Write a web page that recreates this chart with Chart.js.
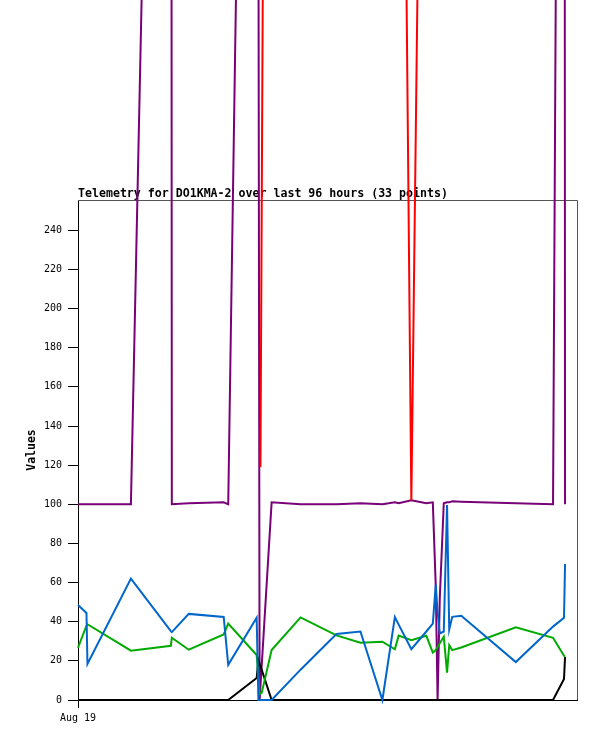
<!DOCTYPE html>
<html>
<head>
<meta charset="utf-8">
<title>Telemetry for DO1KMA-2</title>
<script src="https://cdn.jsdelivr.net/npm/chart.js@4.4.1/dist/chart.umd.min.js"></script>
<style>
  html, body { margin: 0; padding: 0; background: #fff; }
  canvas { display: block; }
</style>
</head>
<body>
<canvas id="chart" width="597" height="741"></canvas>
<script>
// hours since start of window (x axis runs 0..96)
var hours = [0, 1.63, 1.82, 10.18, 17.86, 18.05, 21.31, 28.03, 28.90, 34.37, 34.71, 34.94, 35.33, 37.25, 42.82,
  49.73, 54.34, 58.56, 60.96, 61.69, 64.13, 67.01, 68.26, 68.83, 69.18, 69.60, 70.37, 71.00, 71.42, 72.00,
  73.73, 84.23, 91.39, 93.50, 93.70]

var purpleVals = [100, 100, 100, 100, 1062, 100, 100.5, 101, 100, 1051, 410, 0, 17, 101, 100,
  100, 100.5, 100, 101, 100.5, 102, 100.5, 101, 58, 0, 52, 100.5, 101, 101, 101.5,
  101.3, 100.5, 100, 1150, 100]
var blueVals = [48.5, 44.5, 18.4, 62, 35.2, 34.7, 44, 42.4, 18, 42, 0, 0, 0, 0, 15.5,
  33.7, 35, 0, 42.4, 38.5, 26, 35, 39, 59, 45, 34, 35, 99.6, 36, 42.5,
  43, 19.4, 37.5, 42, 69.5]
var greenVals = [26.7, 38, 38.7, 25.2, 27.7, 31.8, 25.7, 33.5, 39, 23, 12, 3, 3.5, 25.5, 42.2,
  33, 29.3, 29.8, 25.9, 32.9, 30.6, 32.8, 24.2, 25.5, 27, 29, 32.3, 14, 28, 25.5,
  26.8, 37.1, 31.8, 22.6, 22]
var blackVals = [0, 0, 0, 0, 0, 0, 0, 0, 0, 11.2, 20.4, 18.5, 15.5, 0, 0,
  0, 0, 0, 0, 0, 0, 0, 0, 0, 0, 0, 0, 0, 0, 0,
  0, 0, 0, 10.7, 22]

// red only shows where it leaves the purple trace
var redHours = [35.10, 36.10, null, 62.85, 64.13, 65.60]
var redVals = [119, 661, null, 460, 102, 426]

var yTicks = [0, 20, 40, 60, 80, 100, 120, 140, 160, 180, 200, 220, 240]
var xTickHours = [0]
var xTickLabels = ['Aug 19']
var titleText = 'Telemetry for DO1KMA-2 over last 96 hours (33 points)'

function toPoints(xs, ys) {
  return xs.map(function (x, i) { return { x: x === null ? NaN : x, y: ys[i] } })
}

function line(color, xs, ys) {
  return {
    data: toPoints(xs, ys),
    borderColor: color,
    borderWidth: 2,
    pointRadius: 0,
    tension: 0,
    fill: false,
    clip: false,
    spanGaps: false
  }
}

var monoFont = 'DejaVu Sans Mono'

var framePlugin = {
  id: 'frameAndTitle',
  beforeDatasetsDraw: function (chart) {
    var ctx = chart.ctx
    var a = chart.chartArea
    ctx.save()
    ctx.strokeStyle = '#555555'
    ctx.lineWidth = 1
    ctx.beginPath()
    ctx.moveTo(a.left, a.top + 0.5)
    ctx.lineTo(a.right + 0.5, a.top + 0.5)
    ctx.lineTo(a.right + 0.5, a.bottom)
    ctx.stroke()
    ctx.font = 'bold 11.6px "' + monoFont + '"'
    ctx.fillStyle = '#000'
    ctx.textBaseline = 'alphabetic'
    ctx.textAlign = 'left'
    ctx.fillText(titleText, a.left, a.top - 3)
    ctx.restore()
  }
}

var ctx = document.getElementById('chart').getContext('2d')
var myChart = new Chart(ctx, {
  type: 'line',
  data: {
    datasets: [
      line('#0066cc', hours, blueVals),
      line('#00aa00', hours, greenVals),
      line('#000000', hours, blackVals),
      line('#ff0000', redHours, redVals),
      line('#780078', hours, purpleVals)
    ]
  },
  options: {
    responsive: false,
    animation: false,
    devicePixelRatio: 1,
    layout: { padding: { top: 200, right: 20, left: 0, bottom: 0 } },
    plugins: {
      legend: { display: false },
      tooltip: { enabled: false },
      title: { display: false }
    },
    scales: {
      x: {
        type: 'linear',
        min: 0,
        max: 96,
        afterBuildTicks: function (s) { s.ticks = xTickHours.map(function (v) { return { value: v } }) },
        afterFit: function (s) { s.height = 41 },
        ticks: {
          autoSkip: false,
          maxRotation: 0,
          color: '#000',
          padding: 4,
          font: { family: monoFont, size: 10 },
          callback: function (v) { return xTickLabels[xTickHours.indexOf(v)] }
        },
        grid: { drawOnChartArea: false, drawTicks: true, tickLength: 8, color: '#000' },
        border: { display: true, color: '#000', width: 1 }
      },
      y: {
        min: 0,
        max: 255.5,
        afterBuildTicks: function (s) { s.ticks = yTicks.map(function (v) { return { value: v } }) },
        afterFit: function (s) { s.width = 78 },
        ticks: {
          color: '#000',
          padding: 6,
          font: { family: monoFont, size: 10 }
        },
        grid: { drawOnChartArea: false, drawTicks: true, tickLength: 10, color: '#000' },
        border: { display: true, color: '#000', width: 1 },
        title: {
          display: true,
          text: 'Values',
          color: '#000',
          font: { family: monoFont, size: 11.5, weight: 'bold' },
          padding: { top: 25, bottom: 0 }
        }
      }
    }
  },
  plugins: [framePlugin]
})
</script>
</body>
</html>
